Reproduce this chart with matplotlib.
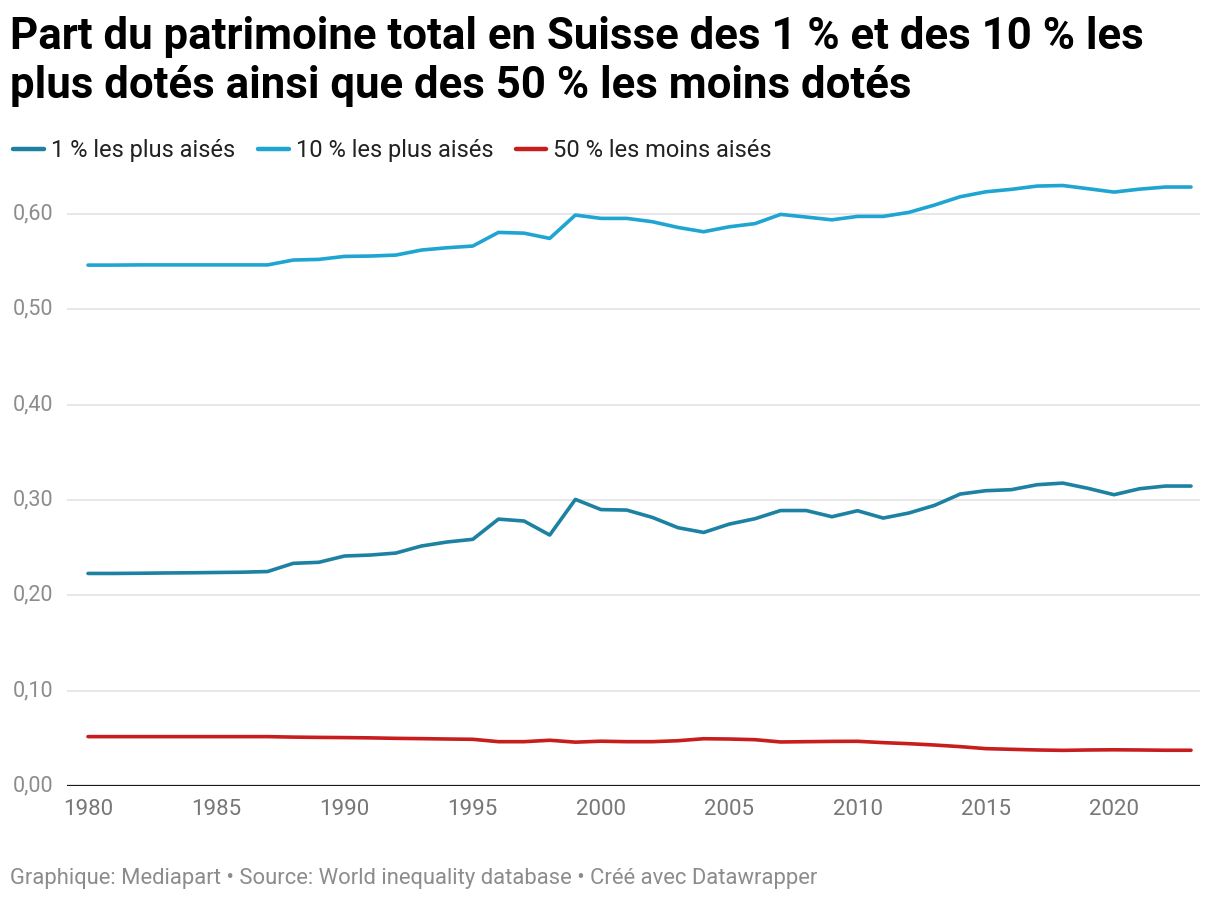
import matplotlib.pyplot as plt
import numpy as np

plt.rcParams['font.family'] = ['Roboto', 'DejaVu Sans']

years = list(range(1980, 2024))
top1 = [0.223, 0.223, 0.2232, 0.2235, 0.2237, 0.224, 0.2243, 0.225,
        0.2336, 0.2347, 0.2413, 0.2423, 0.2444, 0.2518, 0.256, 0.2588,
        0.280, 0.278, 0.2633, 0.3007, 0.290, 0.2895, 0.2818, 0.271,
        0.266, 0.2748, 0.2804, 0.289, 0.289, 0.2825, 0.2888, 0.2811,
        0.2864, 0.2944, 0.3063, 0.3098, 0.3109, 0.3161, 0.3178, 0.3122,
        0.3056, 0.3119, 0.3147, 0.3147]
top10 = [0.5465, 0.5465, 0.5467, 0.5467, 0.5467, 0.5467, 0.5467, 0.5467,
         0.5518, 0.5525, 0.5556, 0.556, 0.557, 0.5623, 0.5647, 0.5665,
         0.5808, 0.580, 0.5745, 0.599, 0.5955, 0.5955, 0.592, 0.586,
         0.5815, 0.5867, 0.590, 0.5997, 0.5969, 0.594, 0.5976, 0.5976,
         0.6018, 0.6095, 0.6182, 0.6234, 0.626, 0.6294, 0.630, 0.6266,
         0.6231, 0.6262, 0.6284, 0.6284]
bottom50 = [0.0518, 0.0518, 0.0518, 0.0518, 0.0518, 0.0518, 0.0518, 0.0518,
            0.0513, 0.051, 0.0508, 0.0505, 0.050, 0.0497, 0.0493, 0.049,
            0.0465, 0.0465, 0.048, 0.046, 0.047, 0.0465, 0.0465, 0.0475,
            0.0496, 0.0493, 0.0486, 0.0462, 0.0465, 0.0468, 0.0469, 0.0455,
            0.0444, 0.043, 0.0413, 0.0392, 0.0385, 0.0378, 0.0374, 0.0378,
            0.038, 0.0378, 0.0375, 0.0375]

labels = ['1 % les plus aisés', '10 % les plus aisés', '50 % les moins aisés']
colors = ['#1d81a2', '#1fa5d2', '#c71e1d']

fig = plt.figure(figsize=(12.2, 9.02), dpi=100)
ax = fig.add_axes([0.0549, 0.1286, 0.9287, 0.6763])

for vals, lab, col in zip([top1, top10, bottom50], labels, colors):
    ax.plot(years, vals, color=col, lw=2.6, label=lab, solid_capstyle='round')

ax.set_xlim(1979.18, 2023.35)
ax.set_ylim(0, 0.64)
yt = [0, 0.1, 0.2, 0.3, 0.4, 0.5, 0.6]
ax.set_yticks(yt)
ax.set_yticklabels([])
for v in yt:
    if v > 0:
        ax.axhline(v, color='#e3e3e3', lw=1.2, zorder=0)
    ax.text(-0.048, v, f'{v:.2f}'.replace('.', ','), transform=ax.get_yaxis_transform(),
            ha='left', va='center', fontsize=15.5, color='#8c8c8c')
ax.axhline(0, color='#1a1a1a', lw=1.6, zorder=1)

ax.set_xticks(range(1980, 2021, 5))
ax.tick_params(axis='x', length=0, pad=9, labelsize=16, labelcolor='#777777')
ax.tick_params(axis='y', length=0)
for s in ax.spines.values():
    s.set_visible(False)

fig.text(0.008, 0.982, 'Part du patrimoine total en Suisse des 1 % et des 10 % les\nplus dotés ainsi que des 50 % les moins dotés',
         fontsize=31.5, fontweight='bold', va='top', ha='left', linespacing=1.2, color='#000000')

leg = fig.legend(loc='upper left', bbox_to_anchor=(-0.0025, 0.864), ncol=3, frameon=False,
                 fontsize=17.0, handlelength=1.3, handletextpad=0.3, columnspacing=0.95,
                 labelcolor='#222222', borderaxespad=0.3)
for h in leg.legend_handles:
    h.set_linewidth(3.2)

fig.text(0.008, 0.026, 'Graphique: Mediapart • Source: World inequality database • Créé avec Datawrapper',
         fontsize=15.8, color='#8c8c8c', ha='left', va='center')

fig.savefig('out.png', dpi=100)
